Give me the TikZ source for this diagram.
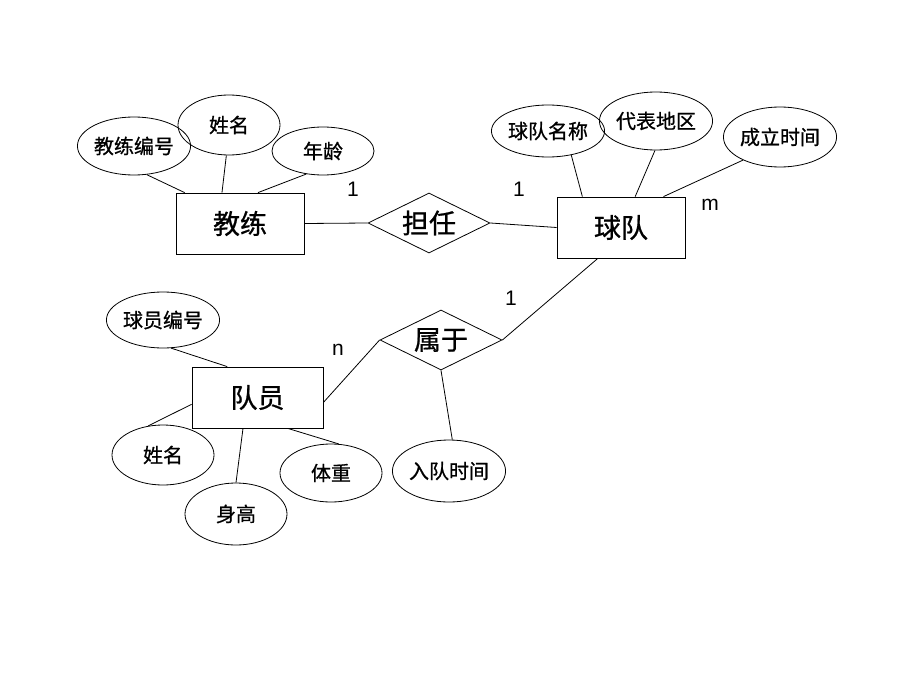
\documentclass[tikz,border=0pt]{standalone}
\usepackage{fontspec}
\setmainfont{Liberation Sans}
\newfontfamily\cjk[FakeBold=0.8]{Noto Sans CJK SC}
\usetikzlibrary{shapes.geometric,calc}
\begin{document}
\begin{tikzpicture}[x=1pt,y=-1pt,line width=0.8pt,
  attr/.style={draw,ellipse,inner sep=0pt,minimum width=102pt,minimum height=58pt,font=\cjk\fontsize{20}{20}\selectfont},
  ent/.style={draw,rectangle,inner sep=0pt,minimum width=128pt,minimum height=61pt,font=\cjk\fontsize{27}{27}\selectfont},
  rel/.style={draw,diamond,aspect=2,inner sep=0pt,minimum width=122pt,minimum height=60pt,font=\cjk\fontsize{27}{27}\selectfont},
  card/.style={font=\fontsize{21}{21}\selectfont,inner sep=0pt}]
\useasboundingbox (0,0) rectangle (920,690);
% entities
\node[ent] (coach) at (240,223.5) {教练};
\node[ent] (team) at (621,227.5) {球队};
\node[ent,minimum width=131pt] (player) at (257.5,397.5) {队员};
% relationships
\node[rel] (rel1) at (429,223) {担任};
\node[rel] (rel2) at (441,340) {属于};
% attributes
\node[attr] (a1) at (134,146) {教练编号};
\node[attr,minimum height=60pt] (a2) at (229,125) {姓名};
\node[attr,minimum height=48pt] (a3) at (323,151) {年龄};
\node[attr,minimum height=52pt] (b1) at (548,131) {球队名称};
\node[attr] (b2) at (656,121) {代表地区};
\node[attr,minimum width=104pt,minimum height=60pt] (b3) at (780,137) {成立时间};
\node[attr,minimum width=104pt,minimum height=56pt] (c1) at (163,320) {球员编号};
\node[attr,minimum height=60pt] (c2) at (163,455) {姓名};
\node[attr,minimum height=62pt] (c3) at (236,514) {身高};
\node[attr] (c4) at (331,473) {体重};
\node[attr,minimum width=104pt,minimum height=62pt] (d1) at (449,471) {入队时间};
% cardinalities
\node[card] (k1) at (353,189) {1};
\node[card] (k2) at (519,189) {1};
\node[card] (k3) at (710,205) {m};
\node[card] (k4) at (511,298) {1};
\node[card] (k5) at (338,350) {n};
% connectors
\draw (coach.east) -- (rel1.west);
\draw (rel1.east) -- (team.west);
\draw ($(team.south west)!0.32!(team.south east)$) -- (rel2.east);
\draw (rel2.west) -- ($(player.north east)!0.58!(player.south east)$);
\draw (rel2.south) -- (d1.84);
\draw (a1.-66) -- ($(coach.north west)!0.07!(coach.north east)$);
\draw (a2.-95) -- ($(coach.north west)!0.36!(coach.north east)$);
\draw (a3.234) -- ($(coach.north west)!0.64!(coach.north east)$);
\draw (b1.-46) -- ($(team.north west)!0.20!(team.north east)$);
\draw (b2.-92) -- ($(team.north west)!0.61!(team.north east)$);
\draw (b3.212) -- ($(team.north west)!0.83!(team.north east)$);
\draw (c1.-74) -- ($(player.north west)!0.27!(player.north east)$);
\draw (c2.117) -- ($(player.north west)!0.61!(player.south west)$);
\draw (c3.90) -- ($(player.south west)!0.39!(player.south east)$);
\draw (c4.75) -- ($(player.south west)!0.73!(player.south east)$);
\end{tikzpicture}
\end{document}
